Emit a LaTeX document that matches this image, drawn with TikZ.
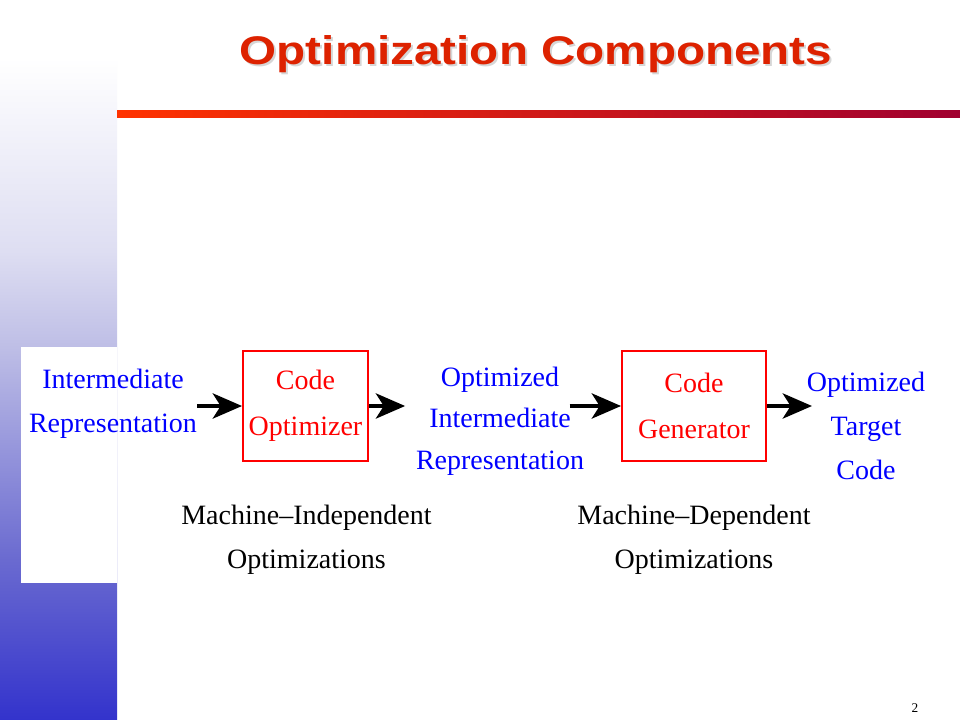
\documentclass[tikz,border=0pt]{standalone}
\usepackage{graphicx}
\usepackage{fontspec}
\setmainfont{Liberation Serif}
\newfontfamily\titlefont{Liberation Sans}
\usetikzlibrary{arrows.meta}

\definecolor{titlered}{RGB}{221,34,0}
\definecolor{lineorange}{RGB}{255,51,0}
\definecolor{linered}{RGB}{160,0,48}
\definecolor{bandblue}{RGB}{51,51,204}
\definecolor{bandmid}{RGB}{106,106,208}
\definecolor{bandlight}{RGB}{190,190,230}
\definecolor{bandpale}{RGB}{222,222,242}
\definecolor{textblue}{RGB}{0,0,255}
\definecolor{boxred}{RGB}{255,0,0}

\pgfdeclareverticalshading{bandshade}{100bp}{color(0bp)=(bandblue); color(25bp)=(bandblue);
  color(36.1bp)=(bandmid); color(50.9bp)=(bandlight); color(57.6bp)=(bandpale);
  color(71bp)=(white); color(100bp)=(white)}

\begin{document}
\begin{tikzpicture}[x=0.75pt,y=-0.75pt,
  lbl/.style={font=\fontsize{21pt}{33pt}\selectfont, align=center, inner sep=0pt},
  box/.style={draw=boxred, line width=1.5pt, text=boxred, align=center, inner sep=0pt,
    font=\fontsize{21pt}{34.5pt}\selectfont, minimum height=82.5pt},
  flow/.style={line width=2.4pt, -{Stealth[length=22pt,width=19pt,inset=6pt]}},
  headline/.style={font=\titlefont\bfseries\fontsize{30pt}{35pt}\selectfont, anchor=base, inner sep=0pt}]

  \useasboundingbox[fill=white] (0,0) rectangle (960,720);
  \shade[shading=bandshade] (0,0) rectangle (117,720);
  \shade[left color=lineorange, right color=linered] (117,111) rectangle (960,118);
  \fill[white] (21,347) rectangle (117,583);

  \node[headline, text=black!16] (shadow) at (538,67) {\scalebox{1.19}[1]{Optimization Components}};
  \node[headline, text=titlered] (title) at (536,65) {\scalebox{1.19}[1]{Optimization Components}};

  \node[lbl, text=textblue] (ir) at (113,404) {Intermediate\\Representation};
  \node[box, minimum width=93.75pt] (opt) at (305.5,406) {Code\\Optimizer};
  \node[lbl, text=textblue, font=\fontsize{21pt}{31pt}\selectfont] (oir) at (500,421)
    {Optimized\\Intermediate\\Representation};
  \node[box, minimum width=108pt] (gen) at (694,406) {Code\\Generator};
  \node[lbl, text=textblue] (otc) at (866,426) {Optimized\\Target\\Code};

  \node[lbl] (mio) at (306.5,540) {Machine--Independent\\Optimizations};
  \node[lbl] (mdo) at (694,540) {Machine--Dependent\\Optimizations};

  \draw[flow] (opt.west -| ir.east) -- (opt.west);
  \draw[flow, shorten >=8pt] (opt.east) -- (opt.east -| oir.west);
  \draw[flow, shorten <=-11pt] (gen.west -| oir.east) -- (gen.west);
  \draw[flow, shorten >=-4pt] (gen.east) -- (gen.east -| otc.west);

  \node[font=\fontsize{10pt}{12pt}\selectfont] (page) at (915,708) {2};
\end{tikzpicture}
\end{document}
